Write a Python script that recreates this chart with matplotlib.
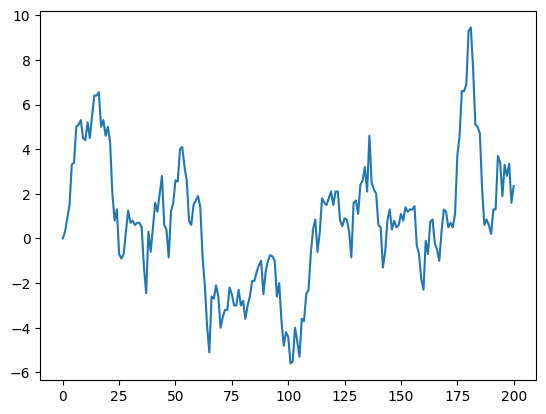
import matplotlib
matplotlib.use("Agg")
import matplotlib.pyplot as plt
import numpy as np

values = [
    0.0, 0.3, 0.9, 1.5, 3.3, 3.4, 5.0, 5.1, 5.3, 4.5,
    4.4, 5.2, 4.5, 5.5, 6.4, 6.4, 6.55, 5.0, 5.3, 4.6,
    5.0, 4.3, 2.0, 0.8, 1.3, -0.7, -0.9, -0.7, 0.3, 1.25,
    0.7, 0.8, 0.6, 0.7, 0.7, 0.5, -1.3, -2.45, 0.3, -0.6,
    0.5, 1.6, 1.2, 2.0, 2.8, 0.6, 0.4, -0.85, 1.2, 1.6,
    2.6, 2.55, 4.0, 4.1, 3.2, 2.6, 0.8, 0.6, 1.5, 1.7,
    1.9, 1.4, -0.8, -2.1, -3.9, -5.1, -2.6, -2.7, -2.1, -2.6,
    -4.0, -3.5, -3.2, -3.2, -2.2, -2.5, -3.0, -3.0, -2.3, -3.0,
    -2.8, -3.6, -3.0, -2.6, -1.9, -1.9, -1.5, -1.2, -1.0, -2.5,
    -1.5, -1.0, -0.75, -0.8, -1.0, -2.6, -2.0, -3.7, -4.8, -4.2,
    -4.4, -5.6, -5.5, -4.0, -4.6, -5.3, -3.6, -3.7, -2.5, -2.3,
    -0.7, 0.4, 0.85, -0.6, 0.3, 1.8, 1.6, 1.5, 1.8, 2.1,
    1.5, 2.1, 2.1, 0.8, 0.55, 0.9, 0.85, 0.3, -0.85, 1.6,
    1.7, 1.1, 2.4, 2.6, 3.2, 2.1, 4.6, 2.5, 2.2, 2.0,
    0.6, 0.5, -1.3, -0.6, 0.8, 1.3, 0.4, 0.8, 0.5, 0.6,
    1.1, 0.8, 1.4, 1.2, 1.3, 1.3, 1.45, -0.3, -0.7, -1.8,
    -2.3, -0.1, -0.7, 0.75, 0.85, -0.2, -0.5, -1.0, 0.3, 1.3,
    1.2, 0.5, 0.7, 0.5, 1.1, 3.7, 4.6, 6.6, 6.6, 6.9,
    9.3, 9.45, 7.6, 5.1, 5.0, 4.7, 2.2, 0.6, 0.85, 0.6,
    0.2, 1.3, 1.3, 3.7, 3.4, 1.9, 3.3, 2.8, 3.35, 1.6,
    2.35,
]
steps = np.arange(len(values))

fig, ax = plt.subplots(figsize=(6.4, 4.8), dpi=100)
ax.plot(steps, values, color="#1f77b4")
fig.savefig("out.png", dpi=100, bbox_inches="tight")
